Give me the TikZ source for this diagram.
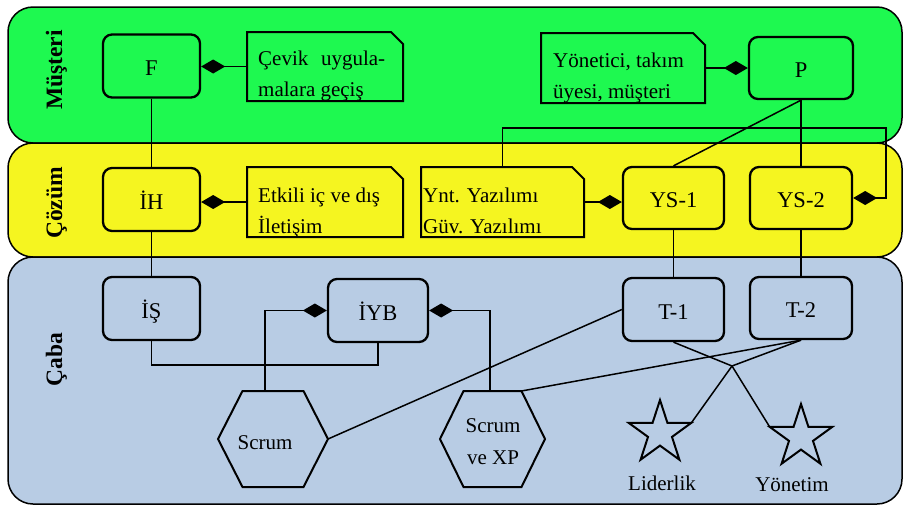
\documentclass[tikz,border=0pt]{standalone}
\usepackage{fontspec}
\setmainfont{Liberation Serif}
\usetikzlibrary{arrows.meta,shapes.geometric}
\definecolor{lgreen}{RGB}{30,249,80}
\definecolor{lyellow}{RGB}{245,245,32}
\definecolor{lblue}{RGB}{184,204,228}
\tikzset{
 lane/.style={draw=black, line width=1.5pt, rounded corners=25pt, inner sep=0pt, outer sep=0pt, minimum width=894pt},
 lanelabel/.style={rotate=90, anchor=base, font=\fontsize{23.5}{28}\selectfont\bfseries, inner sep=0pt},
 box/.style={draw=black, line width=2.3pt, rounded corners=9pt, minimum height=63pt, inner sep=0pt, font=\fontsize{22.5}{27}\selectfont, text height=19pt, text depth=0pt},
 noteshape/.style={inner sep=0pt, outer sep=0pt},
 noteline/.style={draw=black, line width=2pt, line join=miter},
 notetext/.style={anchor=north west, inner sep=0pt, align=left, font=\fontsize{21}{31}\selectfont},
 conn/.style={draw=black, line width=1.5pt},
 dia/.style={conn, -{Diamond[length=24pt,width=14pt]}},
 hexshape/.style={inner sep=0pt, outer sep=0pt, minimum height=96pt},
 hexline/.style={draw=black, line width=2pt, line join=miter},
 plaintext/.style={inner sep=0pt, font=\fontsize{21}{32}\selectfont, align=center},
 starshape/.style={star, star points=5, star point ratio=2.618, draw=black, line width=2pt, minimum size=66pt, inner sep=0pt, outer sep=0pt},
}
\newcommand\notepath[1]{\draw[noteline] (#1.north west) -- ([xshift=-12pt]#1.north east) -- ([yshift=-12pt]#1.north east) -- (#1.south east) -- (#1.south west) -- cycle;}
\newcommand\myhex[2]{\draw[hexline] (#1.west) -- ([xshift=-#2]#1.north) -- ([xshift=#2]#1.north) -- (#1.east) -- ([xshift=#2]#1.south) -- ([xshift=-#2]#1.south) -- cycle;}
\begin{document}
\begin{tikzpicture}[x=1pt,y=-1pt]
\useasboundingbox (0,0) rectangle (903,507);
% lanes
\node[lane, fill=lgreen, minimum height=136pt] (mus) at (455,75) {};
\node[lane, fill=lyellow, minimum height=114pt] (coz) at (455,200) {};
\node[lane, fill=lblue, minimum height=247pt] (cab) at (455,380.5) {};
\node[lanelabel] (lmus) at (62,70) {Müşteri};
\node[lanelabel] (lcoz) at (62,203) {Çözüm};
\node[lanelabel] (lcab) at (62,359.5) {Çaba};
% boxes
\node[box, minimum width=97pt] (F) at (151.5,66) {F};
\node[box, minimum width=97pt] (IH) at (151.5,199.5) {İH};
\node[box, minimum width=97pt] (IS) at (151.5,308.5) {İŞ};
\node[box, minimum width=100pt] (IYB) at (378,310.5) {İYB};
\node[box, minimum width=104pt, minimum height=62pt] (P) at (801,68) {P};
\node[box, minimum width=101pt, minimum height=62pt] (YS1) at (673.5,198) {YS-1};
\node[box, minimum width=102pt, minimum height=62pt] (YS2) at (801,198) {YS-2};
\node[box, minimum width=101pt] (T1) at (673.5,309.5) {T-1};
\node[box, minimum width=102pt, minimum height=62pt] (T2) at (801,308) {T-2};
% notes
\node[noteshape, minimum width=156pt, minimum height=69pt] (cevik) at (325,66.5) {};
\node[noteshape, minimum width=156pt, minimum height=70pt] (etkili) at (325,202) {};
\node[noteshape, minimum width=163pt, minimum height=70pt] (ynt) at (502.5,202) {};
\node[noteshape, minimum width=164pt, minimum height=70pt] (yon) at (623,68) {};
\notepath{cevik}
\notepath{etkili}
\notepath{ynt}
\notepath{yon}
\node[notetext] (cevikt) at (258,50.7) {\makebox[127pt][s]{Çevik uygula-}\\malara geçiş};
\node[notetext] (etkilit) at (258,187.7) {Etkili iç ve dış\\İletişim};
\node[notetext] (yntt) at (423,187.7) {Ynt. Yazılımı\\Güv. Yazılımı};
\node[notetext] (yont) at (553,52.7) {Yönetici, takım\\üyesi, müşteri};
% hexagons
\node[hexshape, minimum width=110pt] (scrum) at (273,439) {};
\node[hexshape, minimum width=105pt] (sxp) at (492.5,439) {};
\myhex{scrum}{30.5pt}
\myhex{sxp}{29pt}
\node[plaintext] (scrumt) at (265,443) {Scrum};
\node[plaintext] (sxpt) at (493,442) {Scrum\\ve XP};
% stars
\node[starshape] (lid) at (660,433) {};
\node[starshape] (yonet) at (801,437) {};
\node[plaintext] (lidt) at (662,483.5) {Liderlik};
\node[plaintext] (yonett) at (792,485) {Yönetim};
% connectors
\draw[conn] (F.south) -- (IH.north);
\draw[conn] (IH.south) -- (IS.north);
\draw[dia] (cevik.west) -- (cevik.west -| F.east);
\draw[dia] (etkili.west) -- (etkili.west -| IH.east);
\draw[dia] (yon.east) -- (yon.east -| P.west);
\draw[dia] (ynt.east) -- (ynt.east -| YS1.west);
\draw[conn] (P.south) -- (YS1.north);
\draw[conn] (P.south) -- (YS2.north);
\coordinate (ret) at (886,128);
\draw[dia] (ynt.north) |- (ret) |- (YS2.east);
\draw[conn] (YS1.south) -- (T1.north);
\draw[conn] (YS2.south) -- (T2.north);
\draw[conn] (IS.south) -- ++(0,24) -| (IYB.south);
\draw[dia] ([xshift=-8pt]scrum.north) |- (IYB.west);
\draw[dia] ([xshift=-2.5pt]sxp.north) |- (IYB.east);
\draw[conn] (scrum.east) -- (T1.west);
\draw[conn] ([xshift=29pt]sxp.north) -- (T2.south);
\coordinate (cross) at (732,366);
\draw[conn] (T1.south) -- (cross) -- (yonet.outer point 2);
\draw[conn] (T2.south) -- (cross) -- (lid.outer point 5);
\end{tikzpicture}
\end{document}
